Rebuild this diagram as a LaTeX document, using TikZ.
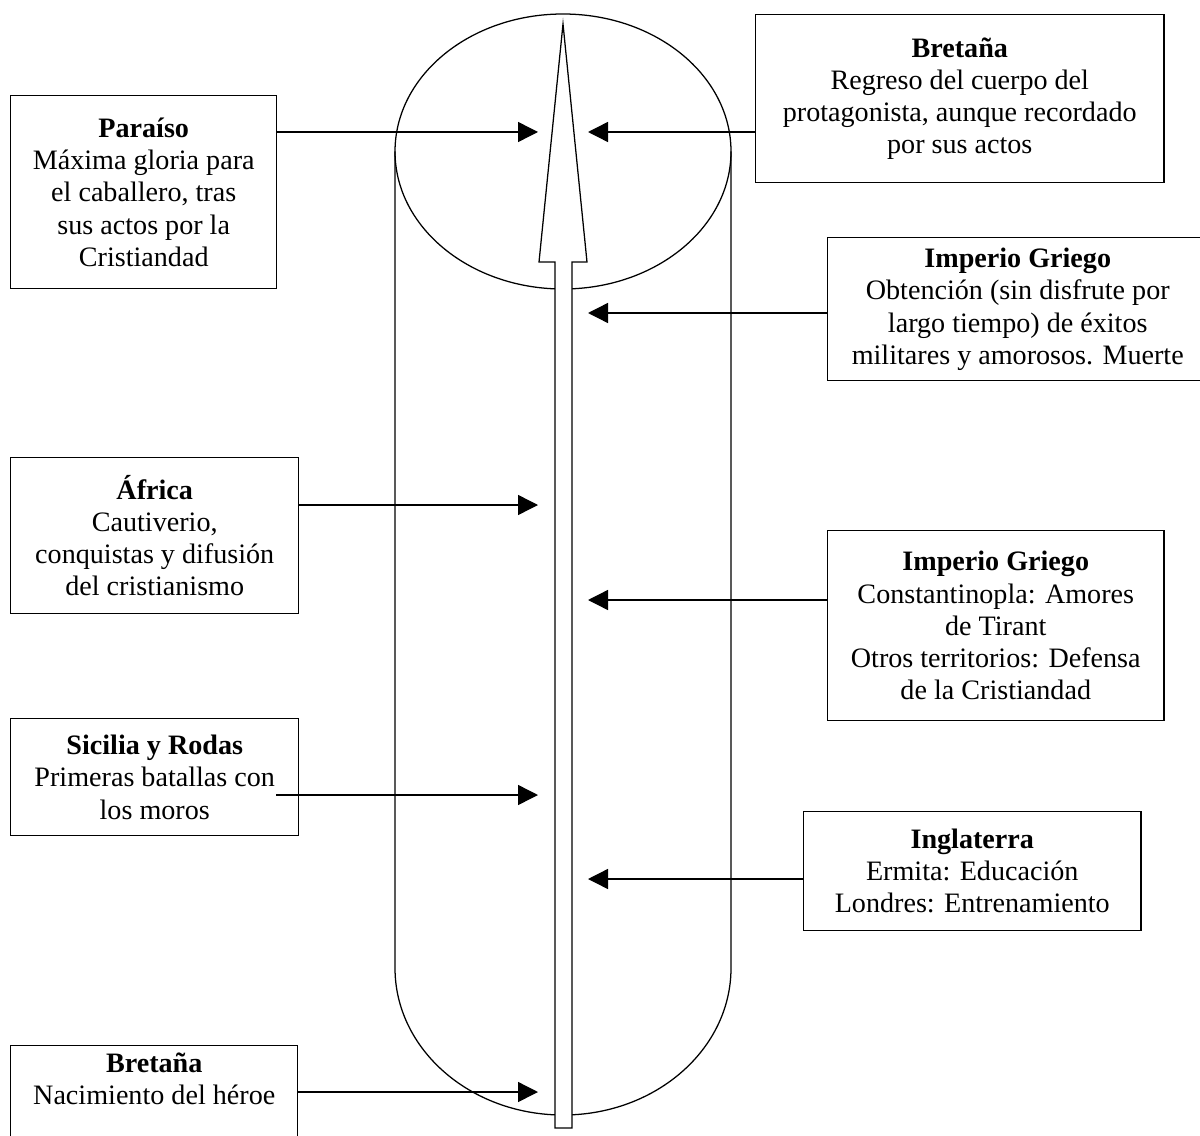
\documentclass[tikz,border=0pt]{standalone}
\usepackage{fontspec}
\setmainfont{Liberation Serif}
\usetikzlibrary{arrows.meta,positioning,calc}

\tikzset{
	caja/.style={draw, line width=1pt, align=center, inner sep=2pt, anchor=north west,
		font=\fontsize{20}{22.9}\selectfont},
	flecha/.style={line width=1pt, -{Triangle[length=0.5cm,width=0.5cm]}},
	contorno/.style={line width=0.9pt}
}

\begin{document}
\begin{tikzpicture}[x=0.025cm,y=-0.025cm]

		\clip (0,0) rectangle (1200,1135);
		\fill[white] (0,0) rectangle (1200,1135);

		% cilindro
		\draw[contorno] (563,151.5) ellipse [x radius=168, y radius=137.5];
		\draw[contorno] (395,151.5) -- (395,968)
			arc [start angle=180, end angle=0, x radius=168, y radius=147] -- (731,151.5);

		% flecha central
		\draw[contorno, fill=white] (555,1128) -- (555,262) -- (539,262) -- (563,24)
			-- (587,262) -- (572,262) -- (572,1128) -- cycle;

		% cajas izquierda
		\node[caja, minimum width=6.65cm, minimum height=4.825cm] (paraiso) at (10,95)
			{\textbf{Paraíso}\\Máxima gloria para\\el caballero, tras\\sus actos por la\\Cristiandad};
		\node[caja, minimum width=7.2cm, minimum height=3.9cm] (africa) at (10,457)
			{\textbf{África}\\Cautiverio,\\conquistas y difusión\\del cristianismo};
		\node[caja, minimum width=7.2cm, minimum height=2.925cm] (sicilia) at (10,718)
			{\textbf{Sicilia y Rodas}\\Primeras batallas con\\los moros};
		\node[caja, minimum width=7.175cm, minimum height=3.25cm] (bretanaB) at (10,1045)
			{\textbf{Bretaña}\\Nacimiento del héroe\\~\\~};

		% cajas derecha
		\node[caja, minimum width=10.2cm, minimum height=4.2cm] (bretanaA) at (755,14)
			{\textbf{Bretaña}\\Regreso del cuerpo del\\protagonista, aunque recordado\\por sus actos};
		\node[caja, minimum width=9.5cm, minimum height=3.575cm] (griegoA) at (827,237)
			{\textbf{Imperio Griego}\\Obtención (sin disfrute por\\largo tiempo) de éxitos\\militares y amorosos. Muerte};
		\node[caja, minimum width=8.4cm, minimum height=4.75cm] (griegoB) at (827,530)
			{\textbf{Imperio Griego}\\Constantinopla: Amores\\de Tirant\\Otros territorios: Defensa\\de la Cristiandad};
		\node[caja, minimum width=8.425cm, minimum height=2.975cm] (inglaterra) at (803,811)
			{\textbf{Inglaterra}\\Ermita: Educación\\Londres: Entrenamiento};

		% puntas
		\coordinate (pParaiso) at (538,132);
		\coordinate (pAfrica) at (538,505);
		\coordinate (sSicilia) at (276,795);
		\coordinate (pSicilia) at (538,795);
		\coordinate (pBretanaB) at (538,1092);
		\coordinate (pBretanaA) at (588,132);
		\coordinate (pGriegoA) at (588,313);
		\coordinate (pGriegoB) at (588,600);
		\coordinate (pInglaterra) at (588,879);

		\draw[flecha] (paraiso.east |- pParaiso) -- (pParaiso);
		\draw[flecha] (africa.east |- pAfrica) -- (pAfrica);
		\draw[flecha] (sSicilia) -- (pSicilia);
		\draw[flecha] (bretanaB.east |- pBretanaB) -- (pBretanaB);
		\draw[flecha] (bretanaA.west |- pBretanaA) -- (pBretanaA);
		\draw[flecha] (griegoA.west |- pGriegoA) -- (pGriegoA);
		\draw[flecha] (griegoB.west |- pGriegoB) -- (pGriegoB);
		\draw[flecha] (inglaterra.west |- pInglaterra) -- (pInglaterra);

\end{tikzpicture}
\end{document}
